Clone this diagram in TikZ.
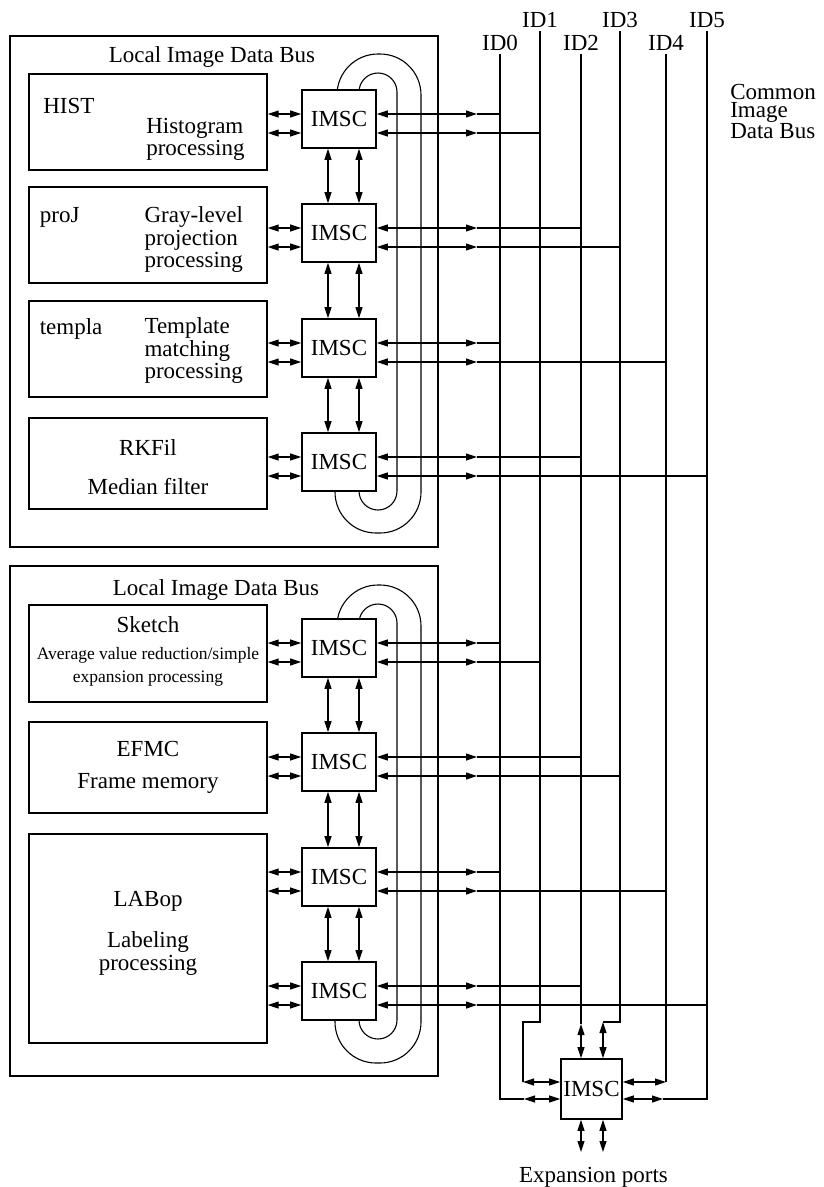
\documentclass[tikz,border=0pt]{standalone}
\usepackage{fontspec}
\setmainfont{Liberation Serif}
\usepackage{tikz}
\usetikzlibrary{arrows.meta, positioning, backgrounds}

\begin{document}
\begin{tikzpicture}[x=1pt, y=-1pt, >={Triangle[length=11pt,width=7pt]}, line width=1.1pt, font=\fontsize{23}{22.5}\selectfont]
    \tikzstyle{busbox} = [rectangle, draw, line width=1.6pt, inner sep=0pt, minimum width=428pt]
    \tikzstyle{proc}   = [rectangle, draw, line width=1.4pt, inner sep=0pt, minimum width=238pt]
    \tikzstyle{imsc}   = [rectangle, draw, line width=1.6pt, fill=white, inner sep=0pt, minimum width=74pt, minimum height=58pt]
    \tikzstyle{lbl}    = [inner sep=0pt, align=left]
    \tikzstyle{loopline} = [draw, line width=1.1pt]

    \useasboundingbox (0,0) rectangle (823,1187);

    % local image data buses
    \node (lidbA) [busbox, minimum height=511pt] at (224,291.5) {};
    \node (lidbB) [busbox, minimum height=510pt] at (224,821) {};
    \node (titleA) [anchor=base, inner sep=0pt] at (212,62) {Local Image Data Bus};
    \node (titleB) [anchor=base, inner sep=0pt] at (216,595.4) {Local Image Data Bus};

    % processing modules
    \node (hist)   [proc, minimum height=96pt]  at (148,122) {};
    \node (proj)   [proc, minimum height=96pt]  at (148,235) {};
    \node (templa) [proc, minimum height=96pt]  at (148,349) {};
    \node (rkfil)  [proc, minimum height=91pt]  at (148,463.5) {};
    \node (sketch) [proc, minimum height=97pt]  at (148,653.5) {};
    \node (efmc)   [proc, minimum height=91pt]  at (148,767.5) {};
    \node (labop)  [proc, minimum height=209pt] at (148,938.5) {};

    \node (histname)   [lbl, anchor=base west] at (42.7,113.7) {HIST};
    \node (histtxt)    [lbl, anchor=west] at (145.7,139.6) {Histogram\\processing};
    \node (projname)   [lbl, anchor=base west] at (39.3,222.5) {proJ};
    \node (projtxt)    [lbl, anchor=west] at (144,239.9) {Gray-level\\projection\\processing};
    \node (templaname) [lbl, anchor=base west] at (39.3,334) {templa};
    \node (templatxt)  [lbl, anchor=west] at (144,350.9) {Template\\matching\\processing};
    \node (rkfiltxt)   [lbl, align=center] at (148,467.4) {RKFil\\[16.8pt]Median filter};
    \node (sketchtxt)  [lbl, align=center] at (148,651) {Sketch\\[5.2pt]{\fontsize{17.5}{22}\selectfont Average value reduction/simple}\\{\fontsize{17.5}{22}\selectfont expansion processing}};
    \node (efmctxt)    [lbl, align=center] at (148,767.5) {EFMC\\[9pt]Frame memory};
    \node (laboptxt)   [lbl, align=center] at (148,933) {LABop\\[19pt]Labeling\\processing};

    % interface controllers
    \foreach \n/\y in {m1/119, m2/233, m3/348, m4/462, m5/648, m6/762, m7/877, m8/991}
        \node (\n) [imsc] at (339,\y) {IMSC};
    \node (imscx) [imsc, minimum width=61pt, minimum height=60pt] at (591.5,1089) {IMSC};

    % local loops, hidden under the controllers
    \begin{scope}[on background layer]
        \path [loopline, rounded corners=41pt] (m1.center -| 337,0) -- (337,54) -- (421,54) -- (421,533) -- (335,533) -- (m4.center -| 335,0);
        \path [loopline, rounded corners=19pt] (m1.center -| 359,0) -- (359,73) -- (397,73) -- (397,510) -- (359,510) -- (m4.center -| 359,0);
        \path [loopline, rounded corners=41pt] (m5.center -| 337,0) -- (337,585) -- (421,585) -- (421,1063) -- (335,1063) -- (m8.center -| 335,0);
        \path [loopline, rounded corners=19pt] (m5.center -| 359,0) -- (359,604) -- (397,604) -- (397,1039) -- (359,1039) -- (m8.center -| 359,0);
    \end{scope}

    % common image data bus
    \node (id0) [anchor=base] at (500,50) {ID0};
    \node (id1) [anchor=base] at (540,27) {ID1};
    \node (id2) [anchor=base] at (581,50) {ID2};
    \node (id3) [anchor=base] at (620,27) {ID3};
    \node (id4) [anchor=base] at (666,50) {ID4};
    \node (id5) [anchor=base] at (707,27) {ID5};
    \node (cidb) [lbl, anchor=west, font=\fontsize{23}{18}\selectfont] at (729.7,111.5) {Common\\Image\\Data Bus};

    \foreach \p/\q in {m1/m2, m2/m3, m3/m4, m5/m6, m6/m7, m7/m8} {
        \draw [<->] (\p.south -| 328,0) -- (\q.north -| 328,0);
        \draw [<->] (\p.south -| 359,0) -- (\q.north -| 359,0);
    }

    \foreach \n/\f/\y/\a/\b in {m1/hist/119/0/1, m2/proj/233/2/3, m3/templa/348/0/4, m4/rkfil/462/2/5,
                                m5/sketch/648/0/1, m6/efmc/762/2/3, m7/labop/877/0/4, m8/labop/991/2/5} {
        \pgfmathsetmacro{\ya}{\y-5}
        \pgfmathsetmacro{\yb}{\y+14}
        \draw [<->] (\f.east |- 0,\ya) -- (\n.west |- 0,\ya);
        \draw [<->] (\f.east |- 0,\yb) -- (\n.west |- 0,\yb);
        \draw [<->] (\n.east |- 0,\ya) -- (477,\ya);
        \draw [<->] (\n.east |- 0,\yb) -- (477,\yb);
        \draw (477,\ya) -- (id\a |- 0,\ya);
        \draw (477,\yb) -- (id\b |- 0,\yb);
    }

    % expansion controller
    \draw (id0.south) |- (524,1099);
    \draw [<->] (524,1099) -- (imscx.west |- 0,1099);
    \draw (id1.south) |- (523,1022) -- (523,1082);
    \draw [<->] (523,1082) -- (imscx.west |- 0,1082);
    \draw (id2.south) -- (581,1024);
    \draw [<->] (581,1024) -- (imscx.north -| 581,0);
    \draw (id3.south) |- (603,1022);
    \draw [<->] (603,1022) -- (imscx.north -| 603,0);
    \draw (id4.south) -- (666,1082);
    \draw [<->] (imscx.east |- 0,1082) -- (666,1082);
    \draw (id5.south) |- (663,1099);
    \draw [<->] (imscx.east |- 0,1099) -- (663,1099);
    \draw [<->] (imscx.south -| 581,0) -- (581,1152);
    \draw [<->] (imscx.south -| 603,0) -- (603,1152);
    \node (expports) [anchor=base, inner sep=0pt] at (593.5,1182) {Expansion ports};
\end{tikzpicture}
\end{document}
